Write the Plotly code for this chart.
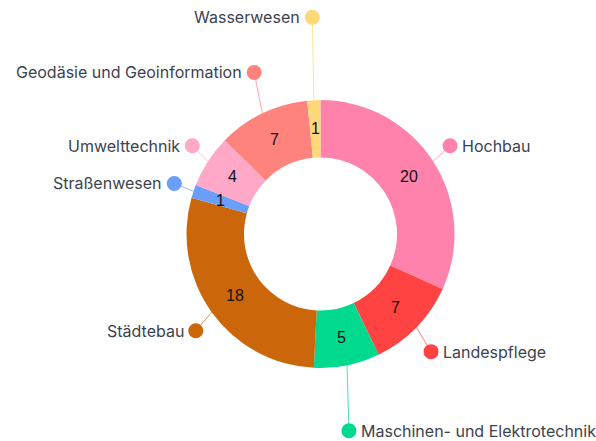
import math
import plotly.graph_objects as go

categories = ["Hochbau", "Landespflege", "Maschinen- und Elektrotechnik", "Städtebau",
              "Straßenwesen", "Umwelttechnik", "Geodäsie und Geoinformation", "Wasserwesen"]
values = [20, 7, 5, 18, 1, 4, 7, 1]
colors = ["#FF82AC", "#FF4242", "#00D98E", "#CC660A",
          "#6A9EFA", "#FFA8C8", "#FF837D", "#FFD878"]
# label-dot placement (style): radius in px and angle shift (deg) from slice middle
leader_r = [156.7, 161.4, 198.8, 157.9, 154.7, 155.7, 174.7, 216.9]
leader_shift = [-1.4, 2.5, 3.2, -2.1, 0.5, 1.7, 3.4, 0.7]

W, H = 596, 441
CX, CY = 320.5, 234.0
R_OUT = 134.0
HOLE = 0.571
R_IN = R_OUT * HOLE

fig = go.Figure()

total = sum(values)
cum = 0
annotations = []
for cat, v, col, lr, sh in zip(categories, values, colors, leader_r, leader_shift):
    mid = (cum + v / 2) / total * 2 * math.pi
    cum += v
    sx, sy = math.sin(mid), -math.cos(mid)
    x0, y0 = CX + R_OUT * sx, CY + R_OUT * sy
    a1 = mid + math.radians(sh)
    x1, y1 = CX + lr * math.sin(a1), CY - lr * math.cos(a1)
    fig.add_trace(go.Scatter(x=[x0, x1], y=[y0, y1], mode="lines",
                             line=dict(color=col, width=1), opacity=0.7,
                             hoverinfo="skip", showlegend=False))
    fig.add_trace(go.Scatter(x=[x1], y=[y1], mode="markers",
                             marker=dict(color=col, size=15, line=dict(width=0)),
                             hoverinfo="skip", showlegend=False))
    right = sx > 0
    annotations.append(dict(x=x1 + (10 if right else -10), y=y1, xref="x", yref="y",
                            text=cat, showarrow=False,
                            xanchor="left" if right else "right", yanchor="middle",
                            font=dict(family="Inter", size=16, color="#3C4250")))
    rm = (R_OUT + R_IN) / 2
    annotations.append(dict(x=CX + rm * sx, y=CY + rm * sy, xref="x", yref="y",
                            text=str(v), showarrow=False,
                            xanchor="center", yanchor="middle",
                            font=dict(family="Liberation Sans", size=16, color="#111111")))

fig.add_trace(go.Pie(
    labels=categories, values=values, sort=False, direction="clockwise", rotation=0,
    hole=HOLE, marker=dict(colors=colors, line=dict(width=0)),
    textinfo="none", hoverinfo="label+value", showlegend=False,
    domain=dict(x=[(CX - R_OUT) / W, (CX + R_OUT) / W],
                y=[1 - (CY + R_OUT) / H, 1 - (CY - R_OUT) / H]),
))

fig.update_layout(
    width=W, height=H, margin=dict(l=0, r=0, t=0, b=0),
    paper_bgcolor="white", plot_bgcolor="rgba(0,0,0,0)",
    xaxis=dict(range=[0, W], visible=False, domain=[0, 1], fixedrange=True),
    yaxis=dict(range=[H, 0], visible=False, domain=[0, 1], fixedrange=True),
    annotations=annotations,
)

fig.write_html("out.html", config={"displayModeBar": False},
               post_script="document.body.style.margin='0';document.body.style.overflow='hidden';")
